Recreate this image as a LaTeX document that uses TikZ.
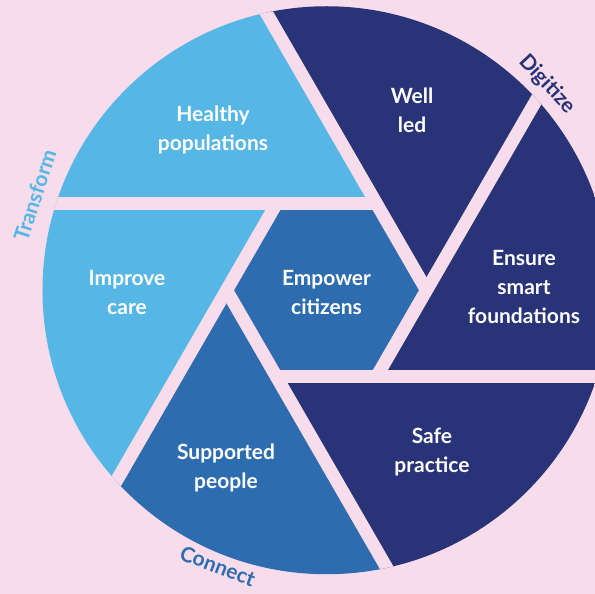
\documentclass[tikz,border=0pt]{standalone}
\usepackage{fontspec}
\setmainfont{Lato}
\usetikzlibrary{calc}

\definecolor{bgpink}{HTML}{F7DCEC}
\definecolor{skyblue}{HTML}{56B6E6}
\definecolor{midblue}{HTML}{2E6CB0}
\definecolor{navyblue}{HTML}{293378}

\begin{document}
\begin{tikzpicture}[
        x=1pt, y=1pt,
        gap/.style={draw=bgpink, line width=13pt},
        bladetext/.style={text=white, align=center, font=\fontsize{21}{29}\selectfont\bfseries},
        ringtext/.style={anchor=base, inner sep=0pt, font=\fontsize{21}{21}\selectfont\bfseries}
    ]
        % Background
        \useasboundingbox (-326.5,-303.75) rectangle (268.5,290.25);
        \fill[bgpink] (-326.5,-303.75) rectangle (268.5,290.25);

        % Hexagon corners
        \coordinate (c) at (0,0);
        \coordinate (v0) at (0:100);
        \coordinate (v1) at (60:100);
        \coordinate (v2) at (120:100);
        \coordinate (v3) at (180:100);
        \coordinate (v4) at (240:100);
        \coordinate (v5) at (300:100);

        \begin{scope}
            \clip (c) circle (284);
            % Blades
            \fill[navyblue] (v0) -- ($(v0)!700pt!(v1)$) -- ($(v0)!-700pt!(v5)$) -- cycle;
            \fill[skyblue] (v1) -- ($(v1)!700pt!(v2)$) -- ($(v1)!-700pt!(v0)$) -- cycle;
            \fill[skyblue] (v2) -- ($(v2)!700pt!(v3)$) -- ($(v2)!-700pt!(v1)$) -- cycle;
            \fill[midblue] (v3) -- ($(v3)!700pt!(v4)$) -- ($(v3)!-700pt!(v2)$) -- cycle;
            \fill[navyblue] (v4) -- ($(v4)!700pt!(v5)$) -- ($(v4)!-700pt!(v3)$) -- cycle;
            \fill[navyblue] (v5) -- ($(v5)!700pt!(v0)$) -- ($(v5)!-700pt!(v4)$) -- cycle;
            % Centre
            \fill[midblue] (v0) -- (v1) -- (v2) -- (v3) -- (v4) -- (v5) -- cycle;
            % Gaps
            \draw[gap] (v0) -- ($(v0)!700pt!(v1)$);
            \draw[gap] (v1) -- ($(v1)!700pt!(v2)$);
            \draw[gap] (v2) -- ($(v2)!700pt!(v3)$);
            \draw[gap] (v3) -- ($(v3)!700pt!(v4)$);
            \draw[gap] (v4) -- ($(v4)!700pt!(v5)$);
            \draw[gap] (v5) -- ($(v5)!700pt!(v0)$);
        \end{scope}

        % Blade labels
        \node[bladetext] (wellled) at (85.5,180) {Well\\led};
        \node[bladetext] (healthy) at (-113.5,160) {Healthy\\populations};
        \node[bladetext] (ensure) at (197.5,3) {Ensure\\smart\\foundations};
        \node[bladetext] (empower) at (0,-2) {Empower\\citizens};
        \node[bladetext] (improve) at (-199.5,-2) {Improve\\care};
        \node[bladetext] (supported) at (-100.5,-178) {Supported\\people};
        \node[bladetext] (safe) at (105.5,-162) {Safe\\practice};

        % Ring labels
        \node[ringtext, text=skyblue, rotate=72] (transform) at (162:299) {Transform};
        \node[ringtext, text=navyblue, rotate=-47] (digitize) at (43:296) {Digitize};
        \node[ringtext, text=midblue, rotate=-21] (connect) at (248.5:304) {Connect};
    \end{tikzpicture}
\end{document}
